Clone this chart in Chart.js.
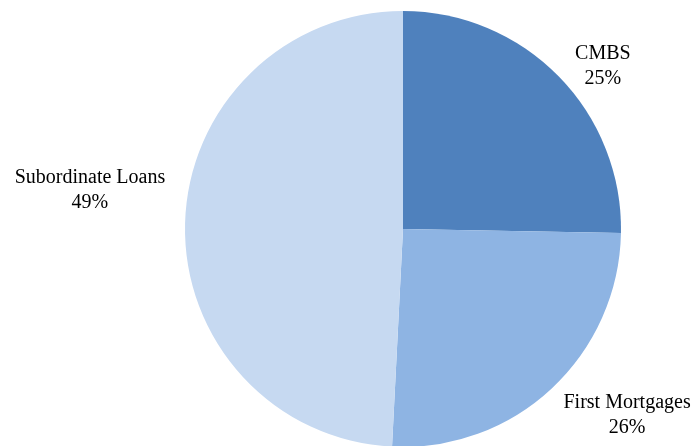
<!DOCTYPE html>
<html>
<head>
<meta charset="utf-8">
<script src="https://cdn.jsdelivr.net/npm/chart.js@4/dist/chart.umd.min.js"></script>
<style>
html,body{margin:0;padding:0;background:#fff;overflow:hidden;}
#wrap{width:696px;height:446px;position:relative;overflow:hidden;}
canvas{display:block;}
</style>
</head>
<body>
<div id="wrap"><canvas id="c" width="696" height="447"></canvas></div>
<script>
const categories = ["CMBS", "First Mortgages", "Subordinate Loans"];
const values = [25.3, 25.5, 49.2];
const percentLabels = ["25%", "26%", "49%"];
const colors = ["#4F81BD", "#8EB4E3", "#C6D9F1"];

// label anchor offsets, in units of the pie radius, relative to pie centre
const labelOffsets = [[0.917, -0.745], [1.028, 0.853], [-1.436, -0.179]];

const labelPlugin = {
  id: 'outerLabels',
  afterDraw(chart) {
    const ctx = chart.ctx;
    const meta = chart.getDatasetMeta(0);
    ctx.save();
    ctx.font = '20px "Liberation Serif", "Times New Roman", serif';
    ctx.fillStyle = '#000';
    ctx.textAlign = 'center';
    ctx.textBaseline = 'middle';
    meta.data.forEach((arc, i) => {
      const r = arc.outerRadius;
      const x = arc.x + labelOffsets[i][0] * r;
      const y = arc.y + labelOffsets[i][1] * r;
      ctx.fillText(categories[i], x, y - 12.5);
      ctx.fillText(percentLabels[i], x, y + 12.5);
    });
    ctx.restore();
  }
};

new Chart(document.getElementById('c'), {
  type: 'pie',
  data: {
    labels: categories,
    datasets: [{
      data: values,
      backgroundColor: colors,
      borderWidth: 0
    }]
  },
  options: {
    responsive: false,
    animation: false,
    layout: { padding: { top: 11, bottom: 0, left: 185, right: 75 } },
    plugins: {
      legend: { display: false },
      tooltip: { enabled: false }
    }
  },
  plugins: [labelPlugin]
});
</script>
</body>
</html>
